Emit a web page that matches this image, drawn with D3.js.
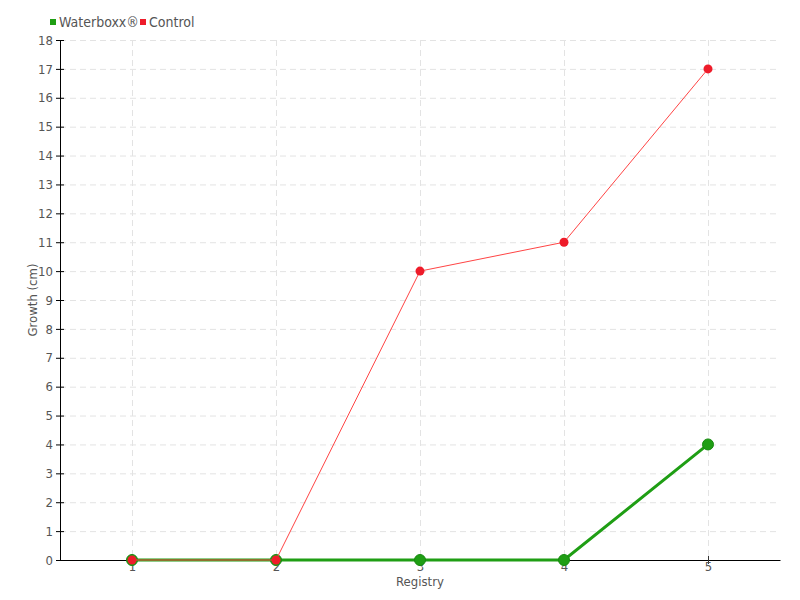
<!DOCTYPE html>
<html>
<head>
<meta charset="utf-8">
<script src="https://cdn.jsdelivr.net/npm/d3@7"></script>
<style>
  body { margin: 0; background: #fff; }
  text { font-family: "DejaVu Sans", sans-serif; font-stretch: condensed; fill: #555; }
</style>
</head>
<body>
<div id="chart"></div>
<script>
var registry = [1, 2, 3, 4, 5];
var waterboxx = [0, 0, 0, 0, 4];
var control = [0, 0, 10, 11, 17];
var yTicks = d3.range(0, 19);

var margin = { top: 40, left: 60, right: 20, bottom: 40 },
    width = 800 - margin.left - margin.right,
    height = 600 - margin.top - margin.bottom;

var svg = d3.select("#chart")
  .append("svg")
  .attr("width", 800)
  .attr("height", 600)
  .append("g")
  .attr("transform", "translate(" + margin.left + "," + margin.top + ")");

var x = d3.scaleLinear().domain([0.5, 5.5]).range([0, width]);
var y = d3.scaleLinear().domain([0, 18]).range([height, 0]);

// grid
svg.append("g").selectAll("line")
  .data(yTicks.slice(1))
  .enter().append("line")
  .attr("x1", 0).attr("x2", width)
  .attr("y1", function(d) { return y(d) + 0.5 })
  .attr("y2", function(d) { return y(d) + 0.5 })
  .attr("stroke", "#e3e3e3")
  .attr("stroke-dasharray", "6,4");

svg.append("g").selectAll("line")
  .data(registry)
  .enter().append("line")
  .attr("y1", 0).attr("y2", height)
  .attr("x1", function(d) { return x(d) + 0.5 })
  .attr("x2", function(d) { return x(d) + 0.5 })
  .attr("stroke", "#e3e3e3")
  .attr("stroke-dasharray", "6,4");

// axes
var xAxis = d3.axisBottom(x).tickValues(registry).tickFormat(d3.format("d")).tickSizeOuter(0);
var gx = svg.append("g")
  .attr("transform", "translate(0," + height + ")")
  .call(xAxis);
gx.selectAll(".tick line").attr("y1", 4).attr("y2", -4).attr("stroke", "#333");
gx.select(".domain").attr("stroke", "#000");
gx.selectAll("text").attr("font-size", "13px").attr("y", 1).attr("dy", "0.8em");

var yAxis = d3.axisLeft(y).tickValues(yTicks).tickFormat(d3.format("d")).tickSizeInner(4).tickSizeOuter(0).tickPadding(3);
var gy = svg.append("g").call(yAxis);
gy.selectAll(".tick line").attr("x1", -4).attr("x2", 4).attr("stroke", "#000");
gy.select(".domain").attr("stroke", "#000");
gy.selectAll("text").attr("font-size", "13px");

svg.append("text")
  .attr("x", width / 2)
  .attr("y", height + 26)
  .attr("text-anchor", "middle")
  .attr("font-size", "13px")
  .text("Registry");

svg.append("text")
  .attr("transform", "translate(-23," + (height / 2) + ") rotate(-90)")
  .attr("text-anchor", "middle")
  .attr("font-size", "13px")
  .text("Growth (cm)");

var green = "#1f9e14";
var red = "#ee1c2a";

var line = d3.line()
  .x(function(d, i) { return x(registry[i]) })
  .y(function(d) { return y(d) });

svg.append("path")
  .datum(waterboxx)
  .attr("fill", "none")
  .attr("stroke", green)
  .attr("stroke-width", 3)
  .attr("d", line);

svg.append("g").selectAll("circle")
  .data(waterboxx)
  .enter().append("circle")
  .attr("cx", function(d, i) { return x(registry[i]) })
  .attr("cy", function(d) { return y(d) })
  .attr("r", 5.5)
  .attr("fill", green)
  .attr("stroke", "#178a10")
  .attr("stroke-width", 1);

svg.append("path")
  .datum(control)
  .attr("fill", "none")
  .attr("stroke", "#ff4444")
  .attr("stroke-width", 1)
  .attr("d", line);

svg.append("g").selectAll("circle")
  .data(control)
  .enter().append("circle")
  .attr("cx", function(d, i) { return x(registry[i]) })
  .attr("cy", function(d) { return y(d) })
  .attr("r", 4.5)
  .attr("fill", red);

// legend
var legend = d3.select("svg").append("g").attr("transform", "translate(50,22)");
var items = [{ name: "Waterboxx®", color: green }, { name: "Control", color: red }];
var offsets = [0, 90];
items.forEach(function(it, i) {
  legend.append("rect")
    .attr("x", offsets[i]).attr("y", -3)
    .attr("width", 6).attr("height", 6)
    .attr("fill", it.color);
  legend.append("text")
    .attr("x", offsets[i] + 9).attr("y", 0)
    .attr("dy", "0.35em")
    .attr("font-size", "14px")
    .text(it.name);
});
</script>
</body>
</html>
